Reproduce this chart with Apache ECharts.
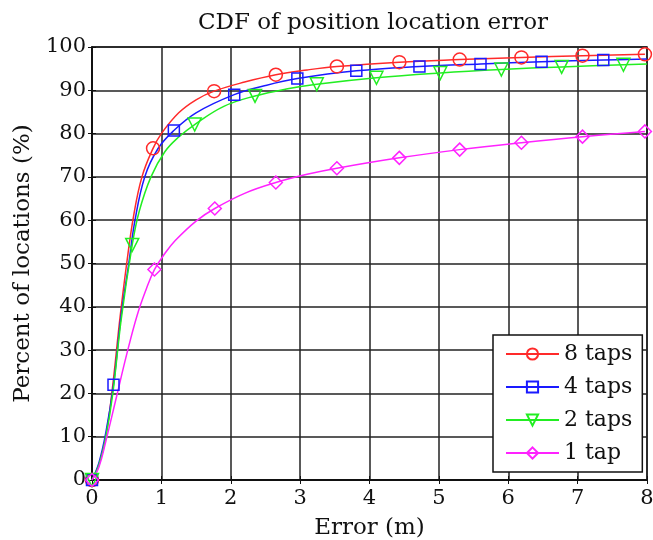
<!DOCTYPE html>
<html>
<head>
<meta charset="utf-8">
<script src="https://cdn.jsdelivr.net/npm/echarts@6/dist/echarts.min.js"></script>
<style>
  html, body { margin: 0; padding: 0; background: #fff; }
  #chart { width: 653px; height: 540px; }
</style>
</head>
<body>
<div id="chart"></div>
<script>
// curve points (error in m, percent of locations)
const err8 = [0, 0.1, 0.2, 0.3, 0.4, 0.5, 0.6, 0.72, 0.88, 1.0, 1.25, 1.5, 1.76, 2.2, 2.65, 3.1, 3.53, 4.43, 5.3, 6.19, 7.07, 7.97]
const pct8 = [0, 3.5, 10, 22, 37, 50, 61, 70, 76.6, 80, 84.8, 87.8, 89.8, 91.9, 93.6, 94.7, 95.5, 96.5, 97.1, 97.6, 98, 98.3]
const mark8 = [0, 8, 12, 14, 16, 17, 18, 19, 20, 21]

const err4 = [0, 0.1, 0.2, 0.31, 0.42, 0.53, 0.62, 0.76, 0.95, 1.18, 1.5, 2.05, 2.5, 2.96, 3.81, 4.72, 5.6, 6.48, 7.37, 8]
const pct4 = [0, 4, 11, 22, 38, 50, 60, 70, 76.5, 80.7, 84.8, 89, 91.1, 92.7, 94.5, 95.5, 96.1, 96.6, 97, 97.2]
const mark4 = [0, 3, 9, 11, 13, 14, 15, 16, 17, 18]

const err2 = [0, 0.1, 0.2, 0.3, 0.42, 0.58, 0.68, 0.85, 1.05, 1.25, 1.48, 1.9, 2.35, 2.8, 3.24, 4.1, 5.02, 5.9, 6.77, 7.66, 8]
const pct2 = [0, 3.5, 10, 20, 37, 54.3, 62, 70, 75.8, 79.2, 82.1, 86.3, 88.7, 90.3, 91.4, 92.9, 94, 94.8, 95.4, 95.9, 96.05]
const mark2 = [0, 5, 10, 12, 14, 15, 16, 17, 18, 19]

const err1 = [0, 0.1, 0.2, 0.35, 0.5, 0.65, 0.78, 0.9, 1.05, 1.2, 1.5, 1.77, 2.2, 2.65, 3.1, 3.53, 4.43, 5.3, 6.19, 7.07, 7.97]
const pct1 = [0, 3, 9, 19, 29, 38, 44, 48.6, 52.3, 55.3, 59.8, 62.7, 66.2, 68.7, 70.6, 72, 74.4, 76.3, 77.9, 79.3, 80.5]
const mark1 = [0, 7, 11, 13, 15, 16, 17, 18, 19, 20]

const xTicks = [0, 1, 2, 3, 4, 5, 6, 7, 8]
const yTicks = [0, 10, 20, 30, 40, 50, 60, 70, 80, 90, 100]

const font = '"DejaVu Serif", "Liberation Serif", serif'

function buildData(xs, ys, marks) {
  return xs.map((x, i) => marks.indexOf(i) >= 0 ? [x, ys[i]] : { value: [x, ys[i]], symbol: 'none' })
}

function makeSeries(name, color, xs, ys, marks, symbol, size, rotate) {
  return {
    name: name,
    type: 'line',
    smooth: 0.4,
    showAllSymbol: true,
    symbol: symbol,
    symbolSize: size,
    symbolRotate: rotate || 0,
    lineStyle: { color: color, width: 1.5 },
    itemStyle: { color: 'rgba(255,255,255,0)', borderColor: color, borderWidth: 1.5 },
    emphasis: { disabled: true },
    data: buildData(xs, ys, marks)
  }
}

// plain mirror axes on top / right, only for the inward ticks
const mirrorTick = { show: true, inside: true, length: 4, lineStyle: { color: '#111' } }

let chart = echarts.init(document.getElementById('chart'))
chart.setOption({
  animation: false,
  backgroundColor: '#fff',
  textStyle: { fontFamily: font, color: '#111' },
  title: {
    text: 'CDF of position location error',
    left: 368,
    textAlign: 'center',
    top: 7,
    textStyle: { fontFamily: font, fontSize: 23, fontWeight: 'normal', color: '#111' }
  },
  grid: {
    left: 92, right: 6, top: 47, bottom: 60,
    outerBoundsMode: 'none',
    containLabel: false,
    show: true, borderColor: '#111', borderWidth: 1.5, backgroundColor: 'transparent'
  },
  legend: {
    orient: 'vertical',
    left: 493, top: 335,
    padding: [8, 10, 8, 12],
    itemGap: 11,
    itemWidth: 53, itemHeight: 14,
    backgroundColor: '#fff',
    borderColor: '#111', borderWidth: 1.5, borderRadius: 0,
    textStyle: { fontFamily: font, fontSize: 22, color: '#111' },
    data: ['8 taps', '4 taps', '2 taps', '1 tap']
  },
  xAxis: [{
    type: 'value',
    min: 0, max: 8, interval: 1,
    name: 'Error (m)',
    nameLocation: 'middle',
    nameGap: 37,
    nameTextStyle: { fontFamily: font, fontSize: 23, color: '#111' },
    axisLine: { show: true, lineStyle: { color: '#111', width: 1.5 } },
    axisTick: { show: true, inside: true, length: 4, lineStyle: { color: '#111' } },
    axisLabel: { fontFamily: font, fontSize: 21, color: '#111', margin: 8,
      formatter: v => xTicks.indexOf(v) >= 0 ? String(v) : '' },
    splitLine: { show: true, lineStyle: { color: '#222', width: 1.5 } }
  }, {
    type: 'value', position: 'top',
    min: 0, max: 8, interval: 1,
    axisLine: { show: true, lineStyle: { color: '#111', width: 1.5 } },
    axisTick: mirrorTick, axisLabel: { show: false }, splitLine: { show: false }
  }],
  yAxis: [{
    type: 'value',
    min: 0, max: 100, interval: 10,
    name: 'Percent of locations (%)',
    nameLocation: 'middle',
    nameGap: 53,
    nameTextStyle: { fontFamily: font, fontSize: 23, color: '#111' },
    axisLine: { show: true, lineStyle: { color: '#111', width: 1.5 } },
    axisTick: { show: true, inside: true, length: 4, lineStyle: { color: '#111' } },
    axisLabel: { fontFamily: font, fontSize: 21, color: '#111', margin: 6,
      formatter: v => yTicks.indexOf(v) >= 0 ? String(v) : '' },
    splitLine: { show: true, lineStyle: { color: '#222', width: 1.5 } }
  }, {
    type: 'value', position: 'right',
    min: 0, max: 100, interval: 10,
    axisLine: { show: true, lineStyle: { color: '#111', width: 1.5 } },
    axisTick: mirrorTick, axisLabel: { show: false }, splitLine: { show: false }
  }],
  series: [
    makeSeries('8 taps', '#ff2a2a', err8, pct8, mark8, 'circle', 13),
    makeSeries('4 taps', '#1a1aff', err4, pct4, mark4, 'rect', 11),
    makeSeries('2 taps', '#22ee22', err2, pct2, mark2, 'triangle', 13, 180),
    makeSeries('1 tap', '#ff22ff', err1, pct1, mark1, 'diamond', 13)
  ]
})
</script>
</body>
</html>
